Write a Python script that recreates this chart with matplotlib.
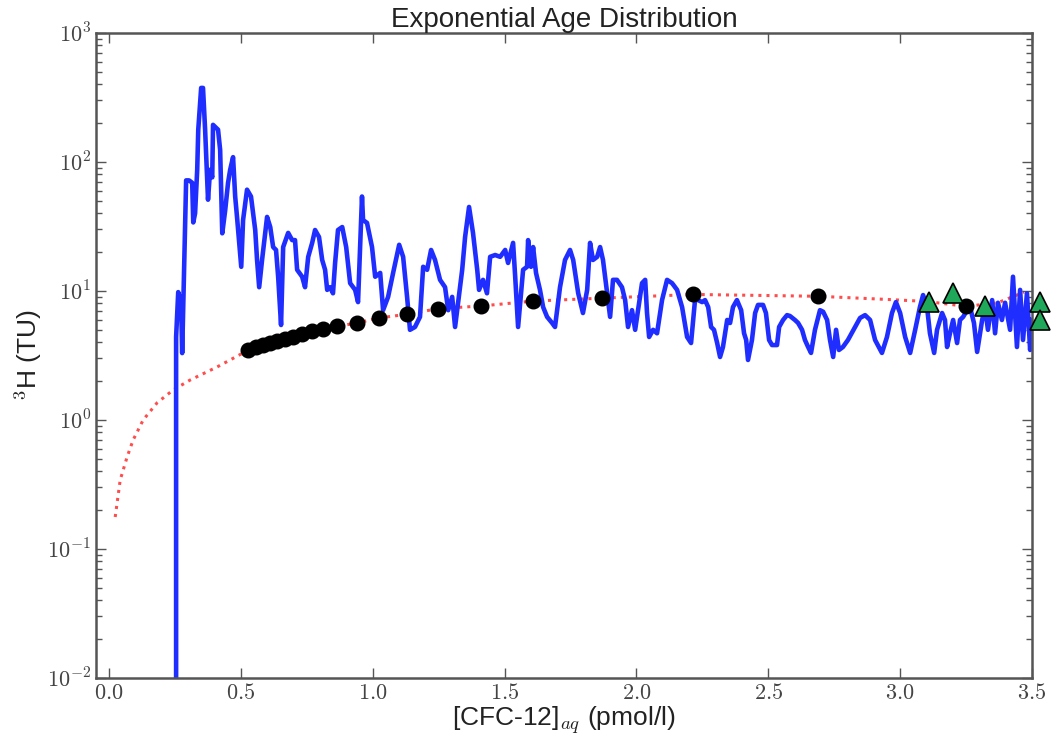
import numpy as np
import matplotlib.pyplot as plt
from matplotlib.ticker import LogLocator, NullFormatter

plt.rcParams['mathtext.fontset'] = 'cm'
plt.rcParams['font.family'] = ['Liberation Sans', 'DejaVu Sans']

# Modelled 3H vs CFC-12 for an exponential age distribution (blue line)
cfc_model = [0.254, 0.254, 0.262, 0.273, 0.277, 0.292, 0.303, 0.315, 0.319, 0.326,
             0.334, 0.338, 0.349, 0.356, 0.364, 0.375, 0.383, 0.391, 0.394, 0.406,
             0.413, 0.421, 0.429, 0.440, 0.451, 0.459, 0.470, 0.478, 0.485, 0.501,
             0.508, 0.523, 0.538, 0.554, 0.561, 0.569, 0.580, 0.599, 0.611, 0.622,
             0.633, 0.641, 0.652, 0.660, 0.679, 0.694, 0.705, 0.713, 0.732, 0.743,
             0.755, 0.770, 0.781, 0.796, 0.808, 0.819, 0.827, 0.838, 0.849, 0.857,
             0.868, 0.884, 0.899, 0.914, 0.933, 0.944, 0.959, 0.963, 0.978, 0.997,
             1.009, 1.028, 1.039, 1.058, 1.077, 1.100, 1.115, 1.130, 1.141, 1.160,
             1.179, 1.191, 1.206, 1.221, 1.236, 1.255, 1.274, 1.286, 1.301, 1.312,
             1.339, 1.350, 1.365, 1.380, 1.396, 1.403, 1.418, 1.433, 1.445, 1.464,
             1.483, 1.502, 1.513, 1.532, 1.540, 1.551, 1.570, 1.585, 1.589, 1.600,
             1.608, 1.619, 1.634, 1.646, 1.661, 1.680, 1.691, 1.710, 1.729, 1.748,
             1.760, 1.779, 1.797, 1.813, 1.824, 1.835, 1.851, 1.862, 1.873, 1.889,
             1.900, 1.911, 1.926, 1.945, 1.957, 1.968, 1.983, 1.995, 2.006, 2.021,
             2.033, 2.040, 2.048, 2.063, 2.078, 2.097, 2.116, 2.135, 2.154, 2.173,
             2.192, 2.207, 2.222, 2.234, 2.249, 2.260, 2.272, 2.283, 2.294, 2.306,
             2.317, 2.328, 2.344, 2.355, 2.366, 2.381, 2.397, 2.408, 2.416, 2.423,
             2.438, 2.450, 2.461, 2.480, 2.491, 2.503, 2.514, 2.533, 2.541, 2.556,
             2.571, 2.582, 2.601, 2.613, 2.628, 2.639, 2.651, 2.662, 2.677, 2.696,
             2.708, 2.723, 2.734, 2.746, 2.757, 2.768, 2.783, 2.802, 2.829, 2.848,
             2.867, 2.886, 2.905, 2.931, 2.950, 2.969, 2.984, 3.000, 3.019, 3.038,
             3.057, 3.075, 3.087, 3.102, 3.113, 3.129, 3.140, 3.159, 3.170, 3.178,
             3.189, 3.201, 3.216, 3.227, 3.239, 3.254, 3.265, 3.280, 3.292, 3.311,
             3.322, 3.333, 3.349, 3.360, 3.371, 3.386, 3.398, 3.417, 3.428, 3.443,
             3.455, 3.466, 3.481, 3.493, 3.500]
h3_model = [0.005, 4.40, 9.8, 8.1, 3.3, 72, 72, 69, 34, 40,
            87, 178, 375, 375, 178, 51, 87, 76, 194, 184,
            178, 124, 28, 42, 69, 87, 109, 54, 37.5, 15.4,
            35.5, 61, 54, 29.7, 17.4, 10.7, 17.4, 37.5, 31.3, 21.9,
            20.8, 12.9, 5.45, 21.9, 28.2, 24.8, 24.8, 14.6, 12.9, 10.7,
            18.4, 23.6, 29.7, 26.2, 17.4, 14.6, 10.2, 10.7, 9.6, 16.5,
            29.7, 31.3, 21.9, 11.5, 10.2, 8.2, 54, 35.5, 33.7, 21.9,
            12.9, 13.8, 7.1, 9.0, 13.8, 22.8, 18.4, 9.0, 5.0, 5.26,
            6.3, 15.4, 14.6, 20.8, 17.4, 12.2, 10.7, 7.1, 9.0, 5.26,
            14.6, 26.2, 44.8, 28.2, 14.6, 10.2, 12.2, 9.6, 18.4, 19.0,
            18.4, 20.8, 16.5, 23.6, 12.9, 5.26, 14.6, 15.4, 24.8, 15.4,
            21.9, 13.8, 10.2, 7.5, 6.3, 5.65, 5.26, 10.7, 17.4, 20.8,
            17.4, 9.6, 6.75, 10.2, 23.6, 17.4, 18.4, 21.9, 17.4, 9.6,
            6.3, 12.2, 12.2, 10.7, 8.5, 5.26, 7.1, 5.0, 7.1, 11.5,
            12.2, 6.75, 4.4, 5.0, 4.7, 8.5, 12.2, 11.5, 10.2, 7.5,
            4.4, 3.95, 8.5, 8.5, 8.2, 8.5, 7.5, 5.26, 5.0, 3.95,
            3.08, 3.68, 5.96, 5.65, 7.5, 8.5, 7.1, 4.7, 4.17, 2.92,
            4.17, 6.75, 7.8, 7.8, 6.75, 4.17, 3.81, 3.81, 5.26, 5.96,
            6.5, 6.4, 5.96, 5.65, 5.0, 4.17, 3.68, 3.31, 5.0, 7.1,
            6.9, 5.96, 4.17, 3.08, 5.0, 3.49, 3.68, 4.17, 5.26, 6.18,
            6.5, 5.96, 4.17, 3.31, 4.4, 6.75, 8.2, 6.75, 4.4, 3.31,
            5.0, 7.5, 9.3, 7.5, 4.7, 3.31, 5.0, 6.75, 5.96, 3.68,
            4.7, 5.96, 3.95, 5.96, 6.3, 7.1, 7.5, 5.65, 3.37, 5.96,
            7.5, 5.0, 8.5, 4.7, 8.1, 5.96, 8.1, 5.0, 12.9, 3.68,
            10.2, 4.17, 9.6, 3.49, 5.96]

# Reference curve (red dotted)
cfc_curve = [0.023, 0.042, 0.068, 0.091, 0.129, 0.182, 0.243, 0.307, 0.410, 0.508,
             0.527, 0.611, 0.698, 0.812, 0.940, 1.024, 1.130, 1.248, 1.411, 1.608,
             1.870, 2.215, 2.689, 2.950, 3.100, 3.250, 3.370, 3.470]
h3_curve = [0.177, 0.343, 0.516, 0.70, 1.0, 1.36, 1.71, 2.04, 2.58, 3.31,
            3.49, 3.95, 4.40, 5.1, 5.65, 6.18, 6.6, 7.3, 7.65, 8.35,
            8.8, 9.4, 9.1, 8.6, 8.3, 7.6, 8.1, 9.8]

# Points on the curve (black dots)
cfc_dots = [0.527, 0.557, 0.584, 0.611, 0.637, 0.667, 0.698, 0.732, 0.770, 0.812,
            0.865, 0.940, 1.024, 1.130, 1.248, 1.411, 1.608, 1.870, 2.215, 2.689, 3.250]
h3_dots = [3.49, 3.68, 3.81, 3.95, 4.10, 4.25, 4.40, 4.63, 4.90, 5.10,
           5.35, 5.65, 6.18, 6.60, 7.30, 7.65, 8.35, 8.80, 9.40, 9.10, 7.60]

# Measured samples (green triangles)
cfc_obs = [3.11, 3.20, 3.32, 3.53, 3.53]
h3_obs = [8.2, 9.6, 7.7, 8.2, 5.96]

fig = plt.figure(figsize=(10.51, 7.36), dpi=100)
ax = fig.add_axes([0.0913, 0.0788, 0.8906, 0.8764])

ax.plot(cfc_curve, h3_curve, color='#ff4d4d', linestyle=':', linewidth=2.2, zorder=1)
ax.plot(cfc_model, h3_model, color='#1f2eff', linewidth=3.3, zorder=2,
        solid_joinstyle='round')
ax.plot(cfc_dots, h3_dots, 'o', color='black', markersize=10.5, zorder=3)
ax.plot(cfc_obs, h3_obs, '^', color='#1fa85a', markeredgecolor='black',
        markeredgewidth=1.2, markersize=15, zorder=4, clip_on=False)

ax.set_yscale('log')
ax.set_xlim(-0.05, 3.5)
ax.set_ylim(1e-2, 1e3)

xticks = [0.0, 0.5, 1.0, 1.5, 2.0, 2.5, 3.0, 3.5]
ax.set_xticks(xticks, labels=[f'${t:.1f}$' for t in xticks])
exps = [-2, -1, 0, 1, 2, 3]
ax.set_yticks([10.0 ** e for e in exps], labels=[r'$10^{%d}$' % e for e in exps])
ax.yaxis.set_minor_locator(LogLocator(base=10, subs=np.arange(2, 10)))
ax.yaxis.set_minor_formatter(NullFormatter())

ax.tick_params(which='both', direction='in', top=True, right=True, colors='#555555',
               labelcolor='#444444', labelsize=16)
ax.tick_params(which='major', length=7, width=1)
ax.tick_params(which='minor', length=4, width=1)
for s in ax.spines.values():
    s.set_color('#555555')
    s.set_linewidth(1.8)

ax.set_title('Exponential Age Distribution', fontsize=20, pad=4, color='#222222')
ax.set_xlabel(r'[CFC-12]$_{aq}$ (pmol/l)', fontsize=19, labelpad=0, color='#222222')
ax.set_ylabel(r'$^3$H (TU)', fontsize=19, labelpad=2, color='#222222')

fig.savefig('out.png', dpi=100)
